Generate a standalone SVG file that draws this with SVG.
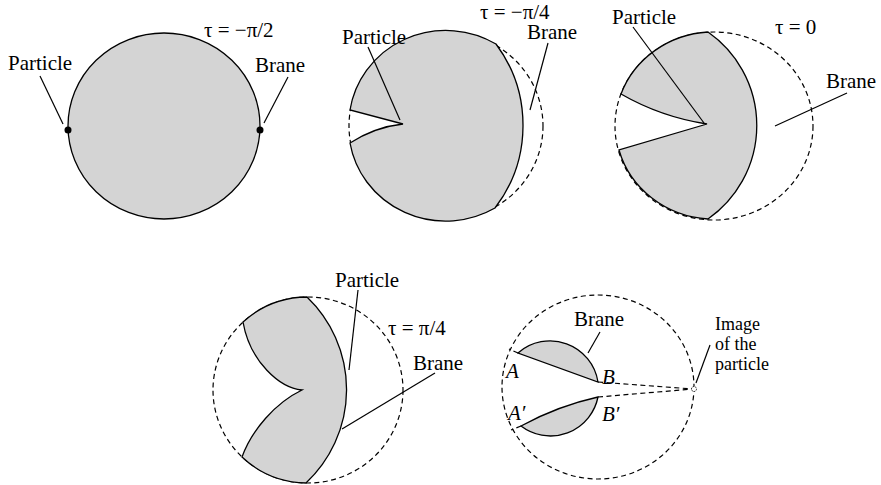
<svg xmlns="http://www.w3.org/2000/svg" width="881" height="485" viewBox="0 0 881 485">
<style>
.sh{fill:#d4d4d4;stroke:#000;stroke-width:1.3}
.ds{fill:none;stroke:#000;stroke-width:1.2;stroke-dasharray:5 3.5}
.ld{stroke:#000;stroke-width:1.2;fill:none}
.dot{fill:#000}
text{font-family:'Liberation Serif','DejaVu Serif','Times New Roman',serif;font-size:21px;fill:#000}
.it{font-style:italic}
.sm{font-size:18px}
</style>
<rect width="881" height="485" fill="#fff"/>
<g font-family="Liberation Serif, DejaVu Serif, serif">
<g id="panel1">
<ellipse cx="164" cy="126" rx="96" ry="93" class="sh"/>
<circle cx="68" cy="130" r="3.5" class="dot"/>
<circle cx="260" cy="130" r="3.5" class="dot"/>
<text x="204" y="37">τ = −π/2</text>
<text x="8" y="70">Particle</text>
<text x="255" y="72">Brane</text>
</g>
<g id="panel2">
<ellipse cx="446" cy="126" rx="97" ry="94" class="ds"/>
<path class="sh" d="M496,44 A136,136 0 0 1 495,208 A97,94 0 0 1 350,143 Q375,127 403,124 L350,110 A97,94 0 0 1 496,44 Z"/>
<text x="342" y="44">Particle</text>
<text x="480" y="19">τ = −π/4</text>
<text x="527" y="39">Brane</text>
</g>
<g id="panel3">
<ellipse cx="714" cy="126" rx="99" ry="94" class="ds"/>
<path class="sh" d="M708,32 A114,114 0 0 1 708,219 A99,94 0 0 1 619,150 L707,124 Q661,117 621,94 A99,94 0 0 1 708,32 Z"/>
<text x="612" y="24">Particle</text>
<text x="775" y="34">τ = 0</text>
<text x="826" y="88">Brane</text>
</g>
<g id="panel4">
<ellipse cx="308" cy="390" rx="95" ry="93" class="ds"/>
<path class="sh" d="M243,322 A95,93 0 0 1 307,297 A128,128 0 0 1 306,483 A95,93 0 0 1 242,457 C252,430 275,403 302,390 C280,388 250,362 243,322 Z"/>
<text x="335" y="287">Particle</text>
<text x="388" y="335">τ = π/4</text>
<text x="413" y="370">Brane</text>
</g>
<g id="panel5">
<ellipse cx="598" cy="387" rx="96" ry="92" class="ds"/>
<path class="sh" d="M518,353 A48.5,48.5 0 0 1 598,382 L518,353 Z"/>
<path class="sh" d="M598,397 A48.5,48.5 0 0 1 521,426 Q557.5,406 598,397 Z"/>
<path class="ds" d="M518,353 L509,349 M521,426 L511,430 M598,382 L693,389 M598,397 L693,389"/>
<circle cx="694" cy="389" r="2.5" fill="#fff" stroke="#000" stroke-width="0.8" stroke-dasharray="1.5 1"/>
<text x="574" y="326">Brane</text>
<text class="sm" x="715" y="330">Image</text>
<text class="sm" x="715" y="350">of the</text>
<text class="sm" x="715" y="370">particle</text>
<text class="it" x="506" y="378">A</text>
<text class="it" x="602" y="384">B</text>
<text class="it" x="508" y="420">A′</text>
<text class="it" x="602" y="421">B′</text>
</g>
</g>
<g id="connectors" class="ld">
<path d="M40,76 L63,124"/>
<path d="M288,77 L264,123"/>
<path d="M368,47 L400,120"/>
<path d="M548,43 L530,110"/>
<path d="M633,27 L704,123"/>
<path d="M847,93 L775,126"/>
<path d="M358,290 L349,370"/>
<path d="M435,373 L342,429"/>
<path d="M600,332 L588,353"/>
<path d="M710,345 L696,383"/>
</g>
</svg>
